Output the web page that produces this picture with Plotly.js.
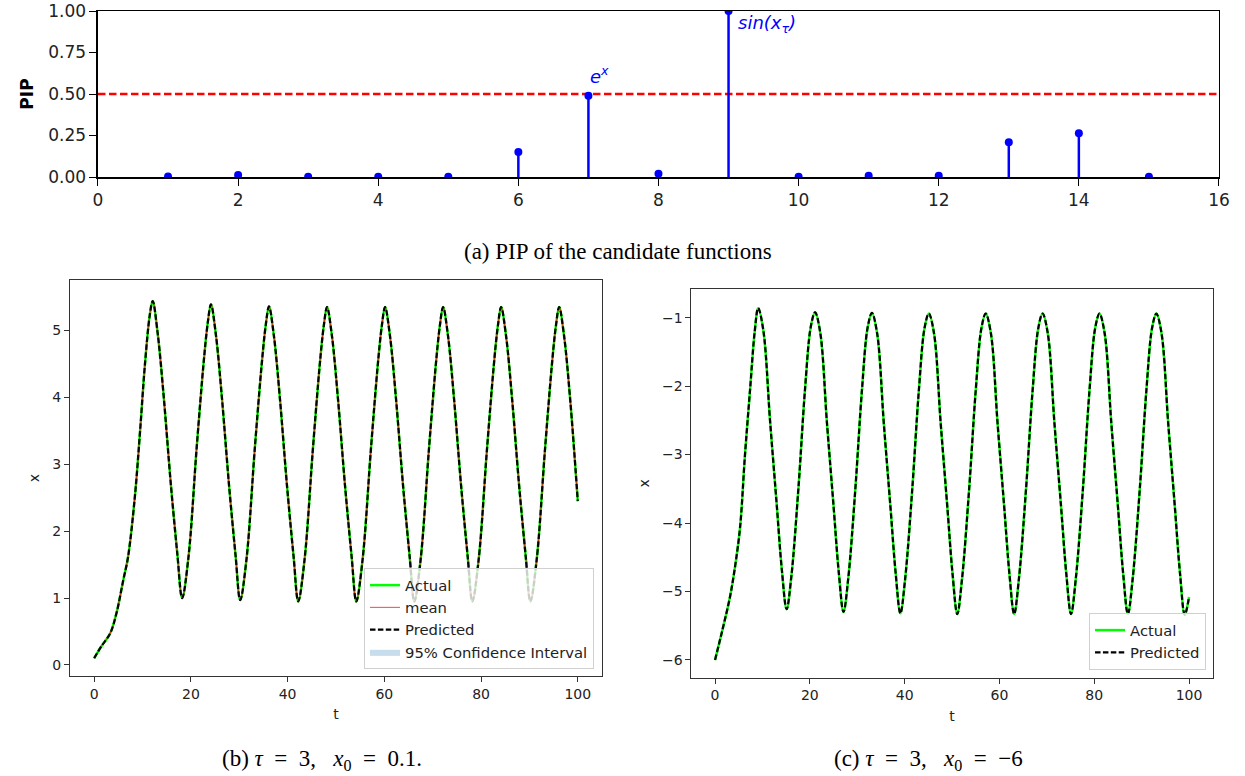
<!DOCTYPE html>
<html><head><meta charset="utf-8">
<script src="https://cdn.plot.ly/plotly-3.0.1.min.js"></script>
<style>html,body{margin:0;padding:0;background:#fff}#chart{width:1245px;height:776px}</style>
</head><body><div id="chart"></div>
<script>
// ---- (a) PIP of candidate functions ----
const candidateIndex = [1,2,3,4,5,6,7,8,9,10,11,12,13,14,15];
const pipValues = [0.003,0.012,0.002,0.002,0.002,0.15,0.49,0.02,1.0,0.002,0.008,0.008,0.21,0.263,0.002];
const pipThreshold = 0.5;
const pipXTicks = [0,2,4,6,8,10,12,14,16];
const pipYTicks = [0,0.25,0.5,0.75,1.0];

// ---- (b) tau = 3, x0 = 0.1 ----
const tB = [0,1.5,3.3,4.6,6.0,7.0,8.4,9.5,10.5,11.5,12.1,
 13.1,14.4,15.8,17.2,18.2,19.5,21.2,22.6,23.5,24.15,
 25.15,26.45,27.85,29.25,30.2,31.5,33.2,34.6,35.5,36.15,
 37.15,38.45,39.85,41.25,42.2,43.5,45.2,46.6,47.5,48.15,
 49.15,50.45,51.85,53.25,54.2,55.5,57.2,58.6,59.5,60.15,
 61.15,62.45,63.85,65.25,66.2,67.5,69.2,70.6,71.5,72.15,
 73.15,74.45,75.85,77.25,78.2,79.5,81.2,82.6,83.5,84.15,
 85.15,86.45,87.85,89.25,90.2,91.5,93.2,94.6,95.5,96.15,
 97.15,98.45,100];
const xActualB = [0.10,0.28,0.47,0.77,1.26,1.61,2.50,3.50,4.49,5.23,5.44,
 4.98,4.00,2.75,1.66,1.00,1.61,3.25,4.49,5.12,5.39,
 4.95,3.97,2.72,1.63,0.97,1.58,3.22,4.46,5.09,5.36,
 4.93,3.95,2.70,1.61,0.95,1.57,3.20,4.45,5.08,5.35,
 4.93,3.95,2.70,1.61,0.95,1.57,3.20,4.45,5.08,5.35,
 4.93,3.95,2.70,1.61,0.95,1.57,3.20,4.45,5.08,5.35,
 4.93,3.95,2.70,1.61,0.95,1.57,3.20,4.45,5.08,5.35,
 4.93,3.95,2.70,1.61,0.95,1.57,3.20,4.45,5.08,5.35,
 4.93,3.95,2.45];
const xMeanB = xActualB;
const xPredB = xActualB;
const ciLowB = xActualB;
const ciHighB = xActualB;
const tTicks = [0,20,40,60,80,100];
const xTicksB = [0,1,2,3,4,5];

// ---- (c) tau = 3, x0 = -6 ----
const tC = [0,1.6,3.15,4.3,5.3,6.3,7.4,8.4,9.1,
 10.2,11.6,13.0,14.1,15.1,16.1,17.6,19.0,20.2,21.1,
 22.2,23.6,25.0,26.1,27.1,28.1,29.6,31.0,32.2,33.1,
 34.2,35.6,37.0,38.1,39.1,40.1,41.6,43.0,44.2,45.1,
 46.2,47.6,49.0,50.1,51.1,52.1,53.6,55.0,56.2,57.1,
 58.2,59.6,61.0,62.1,63.1,64.1,65.6,67.0,68.2,69.1,
 70.2,71.6,73.0,74.1,75.1,76.1,77.6,79.0,80.2,81.1,
 82.2,83.6,85.0,86.1,87.1,88.1,89.6,91.0,92.2,93.1,
 94.2,95.6,97.0,98.1,99.1,100];
const xActualC = [-6.0,-5.55,-5.08,-4.6,-4.05,-3.02,-2.04,-1.18,-0.86,
 -1.19,-2.50,-3.72,-4.69,-5.26,-4.78,-3.48,-2.03,-1.13,-0.92,
 -1.22,-2.53,-3.75,-4.72,-5.30,-4.81,-3.50,-2.05,-1.14,-0.93,
 -1.23,-2.54,-3.76,-4.73,-5.32,-4.82,-3.51,-2.06,-1.15,-0.94,
 -1.23,-2.54,-3.76,-4.74,-5.33,-4.82,-3.51,-2.06,-1.15,-0.94,
 -1.23,-2.54,-3.76,-4.74,-5.33,-4.82,-3.51,-2.06,-1.15,-0.94,
 -1.23,-2.54,-3.76,-4.74,-5.33,-4.82,-3.51,-2.06,-1.15,-0.94,
 -1.23,-2.54,-3.76,-4.74,-5.33,-4.82,-3.51,-2.06,-1.15,-0.94,
 -1.23,-2.54,-3.76,-4.74,-5.34,-5.08];
const xPredC = xActualC;
const xTicksC = [-6,-5,-4,-3,-2,-1];

const stemColor = '#0000ff';
const traces = [
  {x:candidateIndex, y:pipValues, xaxis:'x', yaxis:'y', type:'scatter', mode:'markers',
   marker:{color:stemColor, size:8},
   error_y:{type:'data', symmetric:false, array:candidateIndex.map(()=>0), arrayminus:pipValues,
            color:stemColor, thickness:2.5, width:0},
   showlegend:false, hoverinfo:'x+y'},
  // (b)
  {x:tB, y:xActualB, xaxis:'x2', yaxis:'y2', mode:'lines', name:'Actual', legend:'legend',
   line:{color:'#00ff00', width:2.5, shape:'spline', smoothing:1}},
  {x:tB, y:xMeanB, xaxis:'x2', yaxis:'y2', mode:'lines', name:'mean', legend:'legend',
   line:{color:'rgba(255,0,0,0.75)', width:1, shape:'spline', smoothing:1}},
  {x:tB, y:xPredB, xaxis:'x2', yaxis:'y2', mode:'lines', name:'Predicted', legend:'legend',
   line:{color:'#000', width:2.2, dash:'5.5px,2.4px', shape:'spline', smoothing:1}},
  {x:tB.concat(tB.slice().reverse()), y:ciHighB.concat(ciLowB.slice().reverse()), xaxis:'x2', yaxis:'y2',
   mode:'lines', fill:'toself', fillcolor:'rgba(31,119,180,0.25)', line:{width:0, color:'rgba(31,119,180,0.25)'},
   name:'95% Confidence Interval', legend:'legend'},
  // (c)
  {x:tC, y:xActualC, xaxis:'x3', yaxis:'y3', mode:'lines', name:'Actual', legend:'legend2',
   line:{color:'#00ff00', width:2.5, shape:'spline', smoothing:1}},
  {x:tC, y:xPredC, xaxis:'x3', yaxis:'y3', mode:'lines', name:'Predicted', legend:'legend2',
   line:{color:'#000', width:2.2, dash:'5.5px,2.4px', shape:'spline', smoothing:1}}
];

const baseAxis = {showline:true, mirror:true, ticks:'outside', ticklen:5, tickwidth:1,
  showgrid:false, zeroline:false, linewidth:1, linecolor:'#333', tickcolor:'#333',
  tickfont:{family:'DejaVu Sans', size:14, color:'#222'}};
const topAxis = Object.assign({}, baseAxis, {linecolor:'#000', tickcolor:'#000', linewidth:1.5, ticklen:7,
  tickfont:{family:'DejaVu Sans', size:17, color:'#222'}});

const legendStyle = {bgcolor:'rgba(255,255,255,0.8)', bordercolor:'#d0d0d0', borderwidth:1,
  font:{family:'DejaVu Sans', size:14.8, color:'#222'}, xanchor:'right', yanchor:'bottom'};

const captionFont = {family:'Liberation Serif', size:23, color:'#000'};
const sp2 = '\u00a0\u00a0', sp3 = '\u00a0\u00a0\u00a0';

const layout = {
  width:1245, height:776, margin:{l:0,r:0,t:0,b:0},
  paper_bgcolor:'#fff', plot_bgcolor:'#fff',
  font:{family:'DejaVu Sans', color:'#000'},
  xaxis:Object.assign({}, topAxis, {domain:[0.0787,0.9791], range:[0,16], anchor:'y', tickvals:pipXTicks}),
  yaxis:Object.assign({}, topAxis, {domain:[0.7719,0.9858], range:[0,1], anchor:'x', tickvals:pipYTicks,
     tickformat:'.2f', title:{text:'<b>PIP</b>', font:{family:'DejaVu Sans', size:17, color:'#000'}, standoff:10}}),
  xaxis2:Object.assign({}, baseAxis, {domain:[0.0562,0.4835], range:[-5,105], anchor:'y2', tickvals:tTicks,
     title:{text:'t', font:{family:'DejaVu Sans', size:14, color:'#222'}, standoff:8}}),
  yaxis2:Object.assign({}, baseAxis, {domain:[0.1289,0.6392], range:[-0.165,5.755], anchor:'x2', tickvals:xTicksB,
     title:{text:'x', font:{family:'DejaVu Sans', size:14, color:'#222'}, standoff:9}}),
  xaxis3:Object.assign({}, baseAxis, {domain:[0.5553,0.9741], range:[-5,105], anchor:'y3', tickvals:tTicks,
     title:{text:'t', font:{family:'DejaVu Sans', size:14, color:'#222'}, standoff:8}}),
  yaxis3:Object.assign({}, baseAxis, {domain:[0.1267,0.6276], range:[-6.26,-0.58], anchor:'x3', tickvals:xTicksC,
     title:{text:'x', font:{family:'DejaVu Sans', size:14, color:'#222'}, standoff:9}}),
  legend:Object.assign({}, legendStyle, {x:0.4771, y:0.1379}),
  legend2:Object.assign({}, legendStyle, {x:0.9687, y:0.1366}),
  shapes:[{type:'line', xref:'x domain', yref:'y', x0:0, x1:1, y0:pipThreshold, y1:pipThreshold,
           layer:'below', line:{color:'#ff0000', width:2.5, dash:'7.5px,3.5px'}}],
  annotations:[
    {xref:'x', yref:'y', x:candidateIndex[6], y:pipValues[6]+0.04, text:'<i>e</i><sup><i>x</i></sup>', showarrow:false,
     xanchor:'left', yanchor:'bottom', font:{family:'DejaVu Sans', size:18, color:'#0000ff'}},
    {xref:'x', yref:'y', x:candidateIndex[8]+0.1, y:pipValues[8]-0.08, text:'<i>sin(x<sub>τ</sub>)</i>', showarrow:false,
     xanchor:'left', yanchor:'middle', font:{family:'DejaVu Sans', size:18, color:'#0000ff'}},
    {xref:'paper', yref:'paper', x:0.4964, y:1-252/776, text:'(a) PIP of the candidate functions', showarrow:false,
     xanchor:'center', yanchor:'middle', font:captionFont},
    {xref:'paper', yref:'paper', x:322/1245, y:1-760/776,
     text:'(b) <i>τ</i>'+sp2+'='+sp2+'3,'+sp3+'<i>x</i><sub>0</sub>'+sp2+'='+sp2+'0.1.', showarrow:false,
     xanchor:'center', yanchor:'middle', font:captionFont},
    {xref:'paper', yref:'paper', x:928/1245, y:1-760/776,
     text:'(c) <i>τ</i>'+sp2+'='+sp2+'3,'+sp3+'<i>x</i><sub>0</sub>'+sp2+'='+sp2+'−6', showarrow:false,
     xanchor:'center', yanchor:'middle', font:captionFont}
  ]
};

Plotly.newPlot('chart', traces, layout, {displayModeBar:false, staticPlot:true});
</script>
</body></html>
